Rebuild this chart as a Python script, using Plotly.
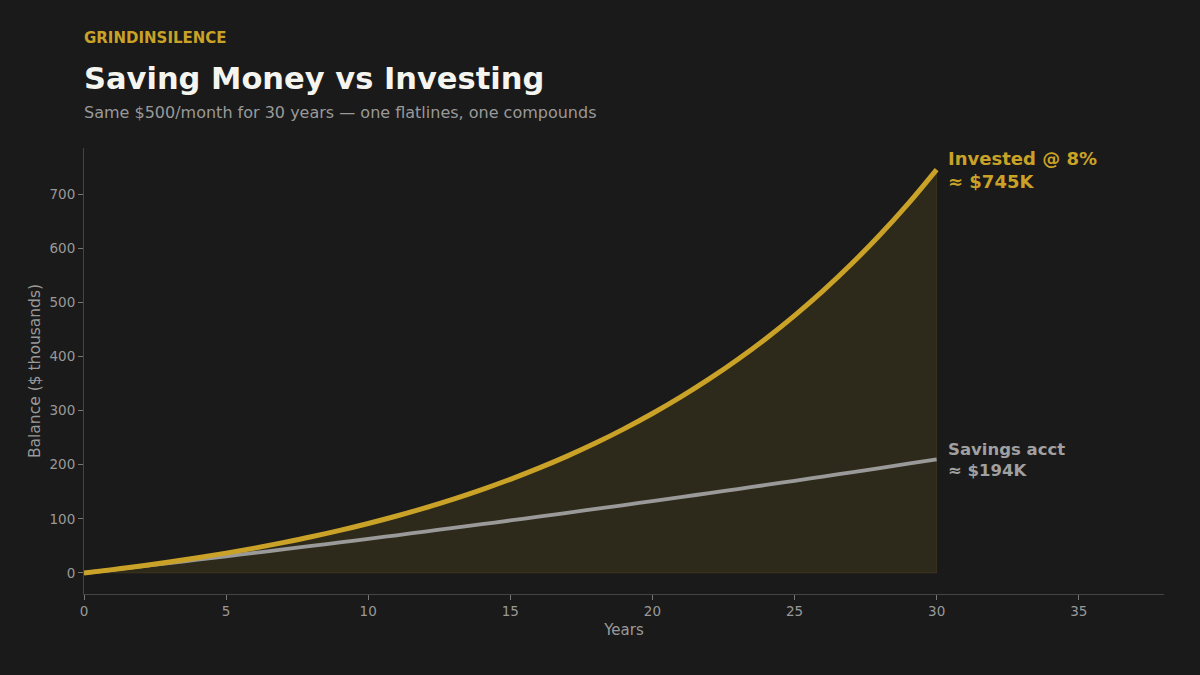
import plotly.graph_objects as go

years = list(range(0, 31))
invested = [0, 6.2, 13.0, 20.3, 28.2, 36.7, 46.0, 56.1, 66.9, 78.7, 91.5,
            105.3, 120.3, 136.5, 154.0, 173.0, 193.6, 215.9, 240.0, 266.2, 294.5,
            325.2, 358.4, 394.4, 433.3, 475.5, 521.2, 570.7, 624.3, 682.3, 745.2]
savings = [0, 6.0, 12.1, 18.3, 24.5, 30.8, 37.1, 43.5, 50.0, 56.5, 63.1,
           69.7, 76.5, 83.3, 90.1, 97.1, 104.1, 111.1, 118.3, 125.5, 132.8,
           140.1, 147.6, 155.1, 162.7, 170.3, 178.1, 185.9, 193.8, 201.8, 209.8]

GOLD = "#c9a227"
GRAY = "#9a9a9a"
BG = "#1a1a1a"
FONT = "DejaVu Sans"

fig = go.Figure()
fig.add_trace(go.Scatter(
    x=years + [years[-1], years[0]], y=invested + [0, 0],
    fill="toself", fillcolor="rgba(201,162,39,0.12)",
    line=dict(color="rgba(201,162,39,0.12)", width=1),
    mode="lines", hoverinfo="skip", showlegend=False))
fig.add_trace(go.Scatter(x=years, y=savings, mode="lines",
                         line=dict(color=GRAY, width=3.8, shape="spline"), showlegend=False))
fig.add_trace(go.Scatter(x=years, y=invested, mode="lines",
                         line=dict(color=GOLD, width=5, shape="spline"), showlegend=False))

fig.update_layout(
    width=1200, height=675,
    paper_bgcolor=BG, plot_bgcolor=BG,
    font=dict(family=FONT, color="#999999", size=14),
    margin=dict(l=84, r=36, t=148, b=81),
    showlegend=False,
    xaxis=dict(range=[0, 38], showgrid=False, zeroline=False,
               showline=True, linecolor="#444444", linewidth=1,
               ticks="outside", tickcolor="#777777", ticklen=5,
               tickvals=[0, 5, 10, 15, 20, 25, 30, 35],
               tickfont=dict(color="#999999", size=13.5),
               title=dict(text="Years", font=dict(size=15, color="#999999"), standoff=6)),
    yaxis=dict(range=[-38.8, 785], showgrid=False, zeroline=False,
               showline=True, linecolor="#444444", linewidth=1,
               ticks="outside", tickcolor="#777777", ticklen=5,
               tickvals=[0, 100, 200, 300, 400, 500, 600, 700],
               tickfont=dict(color="#999999", size=13.5),
               title=dict(text="Balance ($ thousands)", font=dict(size=15.5, color="#999999"), standoff=5)),
)

fig.add_annotation(xref="paper", yref="paper", x=0, y=1, xanchor="left", yanchor="top",
                   xshift=-2, yshift=121, text="<b>GRINDINSILENCE</b>", showarrow=False,
                   font=dict(size=15, color=GOLD, family=FONT))
fig.add_annotation(xref="paper", yref="paper", x=0, y=1, xanchor="left", yanchor="top",
                   xshift=-2, yshift=89, text="<b>Saving Money vs Investing</b>", showarrow=False,
                   font=dict(size=30.5, color="#f5f5f0", family=FONT))
fig.add_annotation(xref="paper", yref="paper", x=0, y=1, xanchor="left", yanchor="top",
                   xshift=-2, yshift=47, text="Same $500/month for 30 years — one flatlines, one compounds",
                   showarrow=False, font=dict(size=16, color="#999999", family=FONT))

fig.add_annotation(x=years[-1], y=invested[-1], xanchor="left", yanchor="top",
                   xshift=9, yshift=24, align="left", showarrow=False,
                   text="<b>Invested @ 8%<br>≈ $745K</b>",
                   font=dict(size=18, color=GOLD, family=FONT))
fig.add_annotation(x=years[-1], y=savings[-1], xanchor="left", yanchor="top",
                   xshift=9, yshift=21, align="left", showarrow=False,
                   text="<b>Savings acct<br>≈ $194K</b>",
                   font=dict(size=16.5, color="#a0a0a0", family=FONT))

fig.write_html("out.html", config={"displayModeBar": False},
               post_script="document.body.style.margin='0';document.body.style.background='#1a1a1a';")
